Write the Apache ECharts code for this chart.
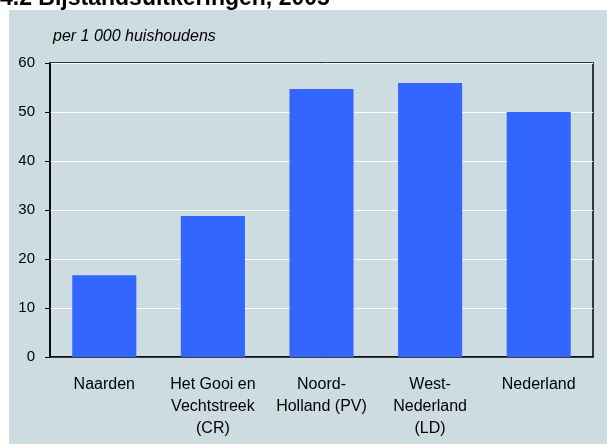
<!DOCTYPE html>
<html>
<head>
<meta charset="utf-8">
<script src="https://cdn.jsdelivr.net/npm/echarts@6/dist/echarts.min.js"></script>
<style>html,body{margin:0;padding:0;background:#fff}#c{width:607px;height:444px}</style>
</head>
<body>
<div id="c"></div>
<script>
var categories = ["Naarden", "Het Gooi en\nVechtstreek\n(CR)", "Noord-\nHolland (PV)", "West-\nNederland\n(LD)", "Nederland"];
var values = [16.7, 28.8, 54.7, 55.9, 50.0];
var yTicks = [0, 10, 20, 30, 40, 50, 60];
var titleText = "4.2 Bijstandsuitkeringen, 2005";
var unitText = "per 1 000 huishoudens";

var chart = echarts.init(document.getElementById('c'), null, {renderer: 'canvas'});
chart.setOption({
  backgroundColor: '#ffffff',
  animation: false,
  title: {
    text: titleText, left: 0, top: -13, padding: 0,
    textStyle: {fontFamily: 'Liberation Sans, Arial', fontWeight: 'bold', fontSize: 23, color: '#000'}
  },
  graphic: [
    {type: 'rect', z: -10, shape: {x: 9, y: 10, width: 598, height: 434}, style: {fill: '#cddce1'}},
    {type: 'text', left: 53, top: 29, style: {text: unitText, font: 'italic 16px Liberation Sans, Arial', fill: '#000'}}
  ],
  grid: {left: 50, right: 14, top: 63, bottom: 87, show: true, borderColor: '#000', borderWidth: 1.5, backgroundColor: '#cddce1'},
  xAxis: {
    type: 'category', data: categories,
    axisLine: {show: true, lineStyle: {color: '#000', width: 1.5}},
    axisTick: {show: false},
    axisLabel: {interval: 0, margin: 17, color: '#000', fontFamily: 'Liberation Sans, Arial', fontSize: 16, lineHeight: 22}
  },
  yAxis: {
    type: 'value', min: yTicks[0], max: yTicks[yTicks.length - 1], interval: 10,
    axisLine: {show: true, lineStyle: {color: '#000', width: 1.5}},
    axisTick: {show: true, inside: false, length: 5, lineStyle: {color: '#000', width: 1}},
    axisLabel: {margin: 15, color: '#000', fontFamily: 'Liberation Sans, Arial', fontSize: 15},
    splitLine: {show: true, lineStyle: {color: '#ffffff', width: 1}}
  },
  series: [{
    type: 'bar', data: values, barWidth: '59%',
    itemStyle: {color: '#3366ff'}
  }]
});
</script>
</body>
</html>
